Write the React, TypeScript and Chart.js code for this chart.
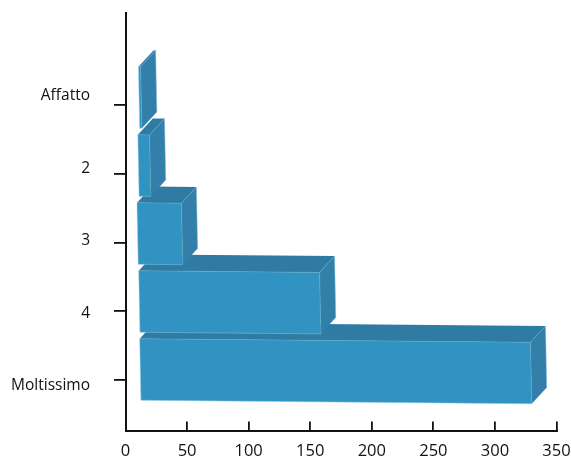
import React, { useEffect, useRef } from "react";
import { Chart, registerables } from "chart.js";

Chart.register(...registerables);

const categories = ["Affatto", "2", "3", "4", "Moltissimo"];
const positions = [1, 2, 3, 4, 5];
const barStarts = [10.5, 10, 9.3, 10.7, 11.5];
const barEnds = [12.3, 19.5, 45.4, 157.6, 328.9];

const FONT = '"Open Sans", sans-serif';
const INK = "#111111";
const FRONT = "#3193c2";
const SIDE = "#3280aa";
const TOP = "#307ba4";
const RIDGE = "#5ea9cd";
const DEPTH_X = 15;
const DEPTH_Y = -16.3;
const TILT_Y = 0.009;
const TILT_X = 0.02;

const poly = (ctx: CanvasRenderingContext2D, pts: number[][], fill: string) => {
  ctx.beginPath();
  pts.forEach((p, i) => (i ? ctx.lineTo(p[0], p[1]) : ctx.moveTo(p[0], p[1])));
  ctx.closePath();
  ctx.fillStyle = fill;
  ctx.fill();
};

const line = (ctx: CanvasRenderingContext2D, a: number[], b: number[], c: string, w: number) => {
  ctx.beginPath();
  ctx.moveTo(a[0], a[1]);
  ctx.lineTo(b[0], b[1]);
  ctx.strokeStyle = c;
  ctx.lineWidth = w;
  ctx.stroke();
};

const box3d = {
  id: "box3d",
  beforeDatasetDraw(chart: any, args: any) {
    const ctx: CanvasRenderingContext2D = chart.ctx;
    const els = args.meta.data;
    ctx.save();
    for (let i = els.length - 1; i >= 0; i--) {
      const { x, y, base, height } = els[i].getProps(["x", "y", "base", "height"], true);
      const w = x - base;
      const t = y - height / 2;
      const tl = [base, t];
      const tr = [x, t + w * TILT_Y];
      const bl = [base + height * TILT_X, t + height];
      const br = [x + height * TILT_X, t + height + w * TILT_Y];
      const back = (p: number[]) => [p[0] + DEPTH_X, p[1] + DEPTH_Y];
      poly(ctx, [tr, back(tr), back(br), br], SIDE);
      poly(ctx, [tl, back(tl), back(tr), tr], TOP);
      poly(ctx, [tl, tr, br, bl], FRONT);
      line(ctx, tl, tr, RIDGE, 0.5);
      line(ctx, tr, br, RIDGE, 0.6);
      line(ctx, tr, back(tr), RIDGE, 0.6);
      line(ctx, bl, br, "#8cc4df", 0.5);
      line(ctx, tl, bl, "#a5d0e5", 0.5);
      line(ctx, back(tr), back(br), "#8cbdd6", 0.5);
    }
    ctx.restore();
    return false;
  },
};

export default function App() {
  const ref = useRef<HTMLCanvasElement>(null);
  useEffect(() => {
    document.body.style.margin = "0";
    const setTicks = (scale: any) => {
      scale.ticks = positions.map((value) => ({ value }));
    };
    const chart = new Chart(ref.current!, {
      type: "bar",
      data: {
        datasets: [
          {
            data: positions.map((p, i) => ({ y: p, x: [barStarts[i], barEnds[i]] })) as any,
            yAxisID: "yBars",
            xAxisID: "x",
            backgroundColor: FRONT,
            barThickness: 61.5,
          },
        ],
      },
      plugins: [box3d],
      options: {
        indexAxis: "y",
        responsive: false,
        animation: false,
        events: [],
        layout: { padding: { top: 13, right: 14.5, left: 0, bottom: 0 } },
        plugins: { legend: { display: false }, title: { display: false }, tooltip: { enabled: false } },
        scales: {
          x: {
            type: "linear",
            position: "bottom",
            min: 0,
            max: 350,
            grid: { drawOnChartArea: false, tickLength: -9.5, color: INK, lineWidth: 1.8 },
            border: { color: INK, width: 2 },
            ticks: { stepSize: 50, color: INK, padding: 19.5, maxRotation: 0, font: { family: FONT, size: 16.5 } },
            afterFit: (s: any) => { s.height = 25; s.paddingLeft = 0; s.paddingRight = 0; },
          },
          yBars: {
            type: "linear",
            axis: "y",
            display: false,
            offset: false,
            reverse: true,
            min: -0.243,
            max: 5.904,
          },
          yTicks: {
            type: "linear",
            axis: "y",
            position: "left",
            weight: 1,
            offset: false,
            reverse: true,
            min: -0.338,
            max: 5.742,
            afterBuildTicks: setTicks,
            grid: { drawOnChartArea: false, offset: false, tickLength: 11.5, color: INK, lineWidth: 1.8 },
            border: { color: INK, width: 2 },
            ticks: { display: false },
            afterFit: (s: any) => { s.width = 35.5; s.paddingTop = 0; s.paddingBottom = 0; },
          },
          yLabels: {
            type: "linear",
            axis: "y",
            position: "left",
            weight: 2,
            offset: false,
            reverse: true,
            min: -0.145,
            max: 5.62,
            afterBuildTicks: setTicks,
            grid: { display: false, drawTicks: false, offset: false },
            border: { display: false },
            ticks: {
              color: INK,
              padding: 0,
              autoSkip: false,
              font: { family: FONT, size: 15.5 },
              callback: (v: any) => categories[Number(v) - 1],
            },
            afterFit: (s: any) => { s.width = 90; s.paddingTop = 0; s.paddingBottom = 0; },
          },
        },
      } as any,
    });
    return () => chart.destroy();
  }, []);
  return <canvas ref={ref} width={571} height={456} style={{ display: "block" }} />;
}
